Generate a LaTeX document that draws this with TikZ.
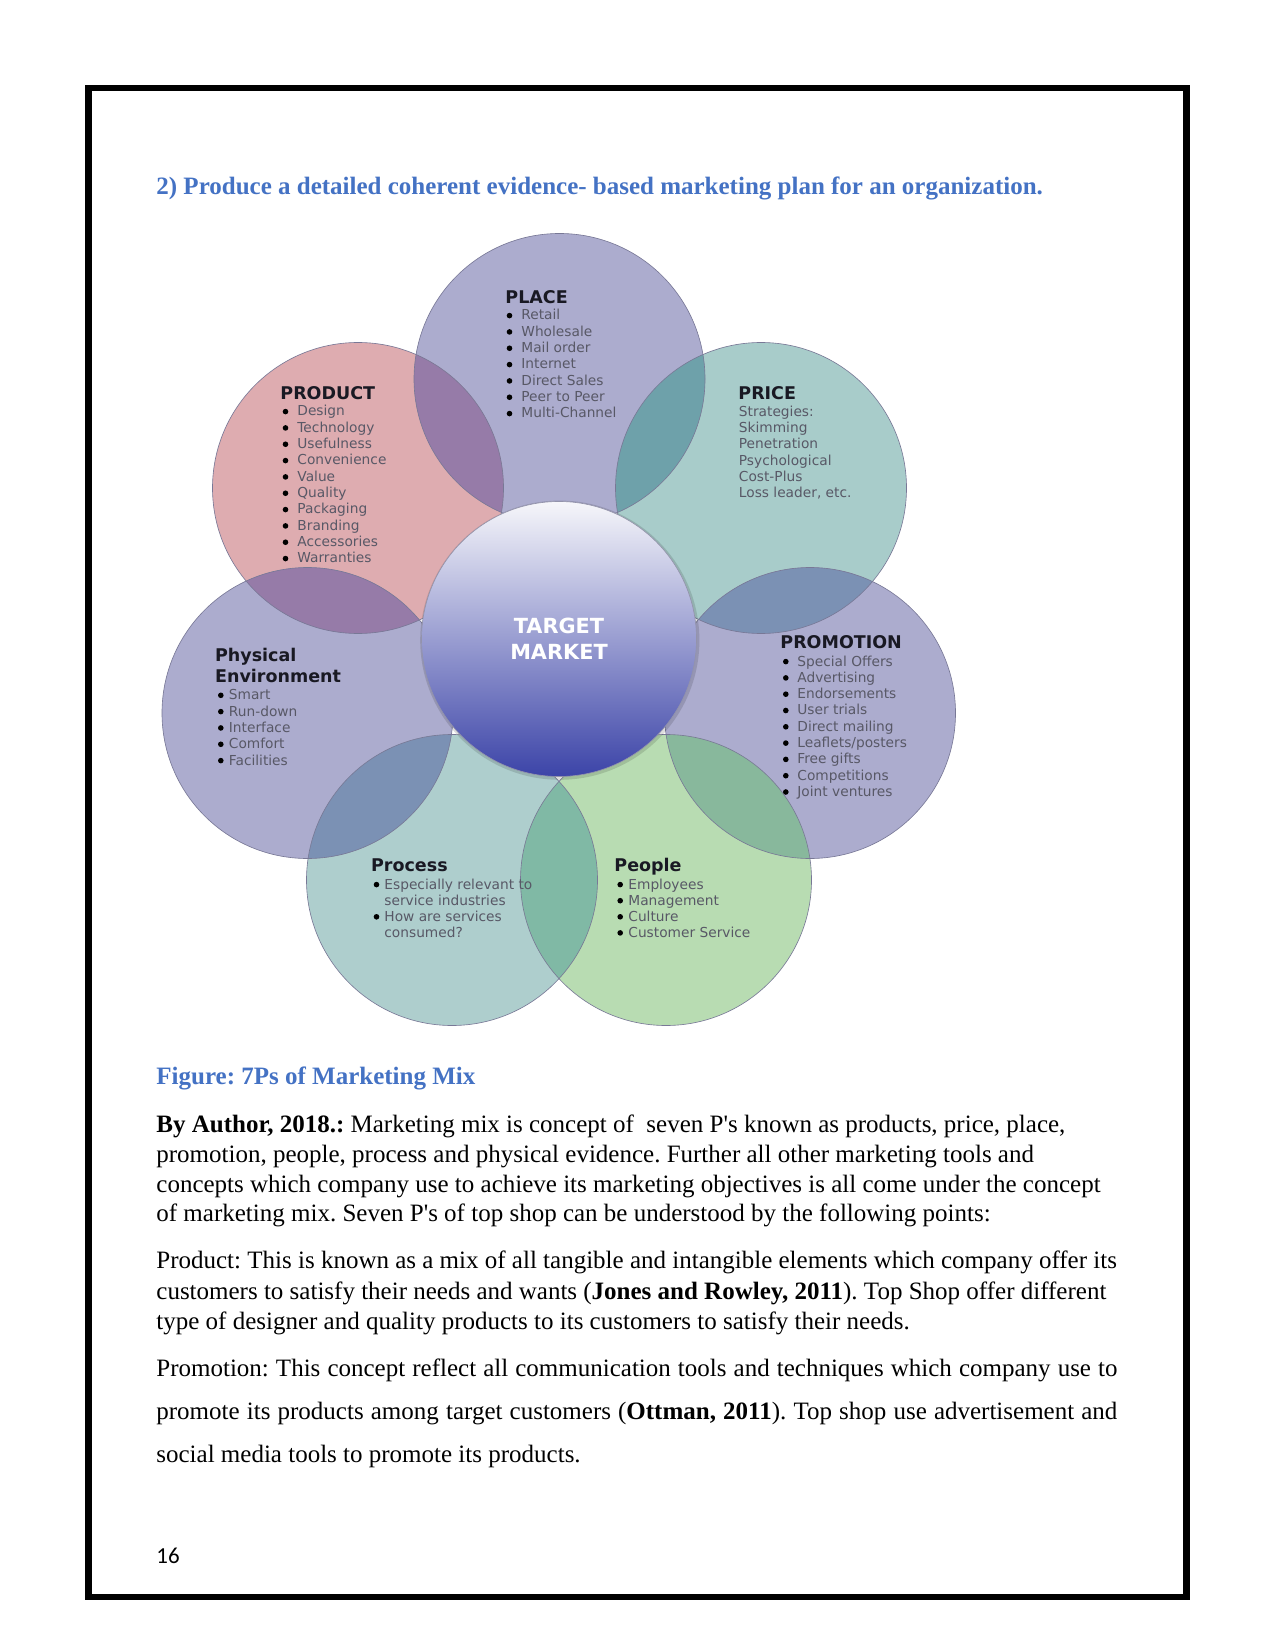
\documentclass[tikz,border=0pt]{standalone}
\usepackage{fontspec}
\setmainfont{Liberation Serif}
\newfontfamily\diagfont{DejaVu Sans}
\newfontfamily\pagefont{Carlito}
\usetikzlibrary{positioning}
\definecolor{mxBlue}{RGB}{68,114,196}
\definecolor{mxLav}{RGB}{172,172,206}
\definecolor{mxPink}{RGB}{222,172,176}
\definecolor{mxTeal}{RGB}{168,204,202}
\definecolor{mxAqua}{RGB}{174,206,205}
\definecolor{mxGreen}{RGB}{184,220,178}
\definecolor{mxPurple}{RGB}{150,123,168}
\definecolor{mxDeepTeal}{RGB}{110,161,170}
\definecolor{mxSlate}{RGB}{123,145,180}
\definecolor{mxSea}{RGB}{128,185,165}
\definecolor{mxMoss}{RGB}{136,184,156}
\definecolor{mxEdge}{RGB}{120,120,150}
\definecolor{mxHead}{RGB}{25,25,35}
\definecolor{mxItem}{RGB}{88,88,102}
\definecolor{tmTop}{RGB}{246,246,250}
\definecolor{tmMid}{RGB}{165,166,214}
\definecolor{tmBot}{RGB}{60,68,168}
\tikzset{
    petal/.style={draw=mxEdge, line width=0.3pt},
    dot/.style={fill=black},
    headtxt/.style={font=\diagfont\bfseries\fontsize{8.4}{10}\selectfont, text=mxHead,
                    inner sep=0pt, anchor=base west},
    itemtxt/.style={font=\diagfont\fontsize{6.6}{7.8}\selectfont, text=mxItem,
                    inner sep=0pt, anchor=base west},
    bodytxt/.style={font=\fontsize{12}{14}\selectfont, inner sep=0pt, anchor=base west},
    bluetxt/.style={bodytxt, font=\fontsize{12}{14}\selectfont\bfseries, text=mxBlue},
    target/.style={circle, minimum size=132pt, inner sep=0pt, draw=mxEdge!80, line width=0.3pt,
                   top color=tmTop, middle color=tmMid, bottom color=tmBot,
                   font=\diagfont\bfseries\fontsize{10}{12.3}\selectfont, text=white, align=center}
}
\newcommand{\rp}{145.5}
\newcommand{\rd}{2.8}
\frenchspacing

\begin{document}
\begin{tikzpicture}[x=0.48pt,y=-0.48pt]
  \useasboundingbox (0,0) rectangle (1275,1650);
  \fill[white] (0,0) rectangle (1275,1650);
  \draw[line width=3.1pt] (88.3,88) rectangle (1186.3,1597);

  \node[bluetxt] (title) at (156,195) {2) Produce a detailed coherent evidence- based marketing plan for an organization.};

  % petals
  \coordinate (place) at (559.5,379);
  \coordinate (product) at (358,488);
  \coordinate (price) at (761,488);
  \coordinate (phys) at (307.5,713);
  \coordinate (promo) at (810,713);
  \coordinate (process) at (452,880);
  \coordinate (people) at (666,880);

  \foreach \c/\col in {place/mxLav,product/mxPink,price/mxTeal,phys/mxLav,promo/mxLav,process/mxAqua,people/mxGreen}
    \fill[\col] (\c) circle (\rp);
  \foreach \a/\b/\col in {place/product/mxPurple,place/price/mxDeepTeal,product/phys/mxPurple,
                          price/promo/mxSlate,phys/process/mxSlate,promo/people/mxMoss,process/people/mxSea}{
    \begin{scope}
      \clip (\a) circle (\rp);
      \fill[\col] (\b) circle (\rp);
    \end{scope}
  }
  \foreach \c in {place,product,price,phys,promo,process,people}
    \draw[petal] (\c) circle (\rp);

  \fill[black, opacity=0.13] (559.8,640.2) circle (139.6);
  \node[target] (tm) at (559,639) {TARGET\\MARKET};

  % texts of the petals
  \node[headtxt] (placehead) at (505,303.3) {PLACE};
  \foreach \t [count=\i] in {Retail,Wholesale,Mail order,Internet,Direct Sales,Peer to Peer,Multi-Channel}{
    \fill[dot] (509.5,{315.6+(\i-1)*16.33}) circle (\rd);
    \node[itemtxt] (place-\i) at (521,{320+(\i-1)*16.33}) {\t};
  }

  \node[headtxt] (producthead) at (280,399.3) {PRODUCT};
  \foreach \t [count=\i] in {Design,Technology,Usefulness,Convenience,Value,Quality,Packaging,Branding,Accessories,Warranties}{
    \fill[dot] (285.5,{411.6+(\i-1)*16.33}) circle (\rd);
    \node[itemtxt] (product-\i) at (297,{416+(\i-1)*16.33}) {\t};
  }

  \node[headtxt] (pricehead) at (738,399.3) {PRICE};
  \foreach \t [count=\i] in {Strategies:,Skimming,Penetration,Psychological,Cost-Plus,{Loss leader, etc.}}
    \node[itemtxt] (price-\i) at (738.5,{416.3+(\i-1)*16.3}) {\t};

  \node[headtxt] (physhead) at (214.7,661.7) {Physical};
  \node[headtxt] (physhead2) at (214.7,682.7) {Environment};
  \foreach \t [count=\i] in {Smart,Run-down,Interface,Comfort,Facilities}{
    \fill[dot] (220.8,{695.3+(\i-1)*16.33}) circle (\rd);
    \node[itemtxt] (phys-\i) at (228.5,{699.7+(\i-1)*16.33}) {\t};
  }

  \node[headtxt] (promohead) at (780,648.7) {PROMOTION};
  \foreach \t [count=\i] in {Special Offers,Advertising,Endorsements,User trials,Direct mailing,Leaflets/posters,Free gifts,Competitions,Joint ventures}{
    \fill[dot] (785.8,{661.6+(\i-1)*16.3}) circle (\rd);
    \node[itemtxt] (promo-\i) at (797,{666+(\i-1)*16.3}) {\t};
  }

  \node[headtxt] (processhead) at (370.7,871.7) {Process};
  \foreach \t/\b [count=\i] in {Especially relevant to/1,service industries/0,How are services/1,consumed?/0}{
    \ifnum\b=1 \fill[dot] (376.5,{884.6+(\i-1)*16.1}) circle (\rd); \fi
    \node[itemtxt] (process-\i) at (384,{889+(\i-1)*16.1}) {\t};
  }

  \node[headtxt] (peoplehead) at (614,871.7) {People};
  \foreach \t [count=\i] in {Employees,Management,Culture,Customer Service}{
    \fill[dot] (620.2,{884.6+(\i-1)*16.1}) circle (\rd);
    \node[itemtxt] (people-\i) at (628,{889+(\i-1)*16.1}) {\t};
  }

  % text below the figure
  \node[bluetxt] (caption) at (156,1084.6) {Figure: 7Ps of Marketing Mix};

  \node[bodytxt] (pa1) at (156,1132) {\textbf{By Author, 2018.:} Marketing mix is concept of\ \ seven P\textquotesingle s known as products, price, place,};
  \node[bodytxt] (pa2) at (156,1162.5) {promotion, people, process and physical evidence. Further all other marketing tools and};
  \node[bodytxt] (pa3) at (156,1192) {concepts which company use to achieve its marketing objectives is all come under the concept};
  \node[bodytxt] (pa4) at (156,1221.4) {of marketing mix. Seven P\textquotesingle s of top shop can be understood by the following points:};

  \node[bodytxt] (pb1) at (156,1268.7) {Product: This is known as a mix of all tangible and intangible elements which company offer its};
  \node[bodytxt] (pb2) at (156,1299.2) {customers to satisfy their needs and wants (\textbf{Jones and Rowley, 2011}). Top Shop offer different};
  \node[bodytxt] (pb3) at (156,1329.7) {type of designer and quality products to its customers to satisfy their needs.};

  \node[bodytxt] (pc1) at (156,1376) {\makebox[461.3pt][s]{Promotion: This concept reflect all communication tools and techniques which company use to}};
  \node[bodytxt] (pc2) at (156,1419) {\makebox[461.3pt][s]{promote its products among target customers (\textbf{Ottman, 2011}). Top shop use advertisement and}};
  \node[bodytxt] (pc3) at (156,1462.3) {social media tools to promote its products.};

  \node[inner sep=0pt, anchor=base west, font=\pagefont\fontsize{11}{13}\selectfont] (pagenum) at (156,1563) {16};
\end{tikzpicture}
\end{document}
